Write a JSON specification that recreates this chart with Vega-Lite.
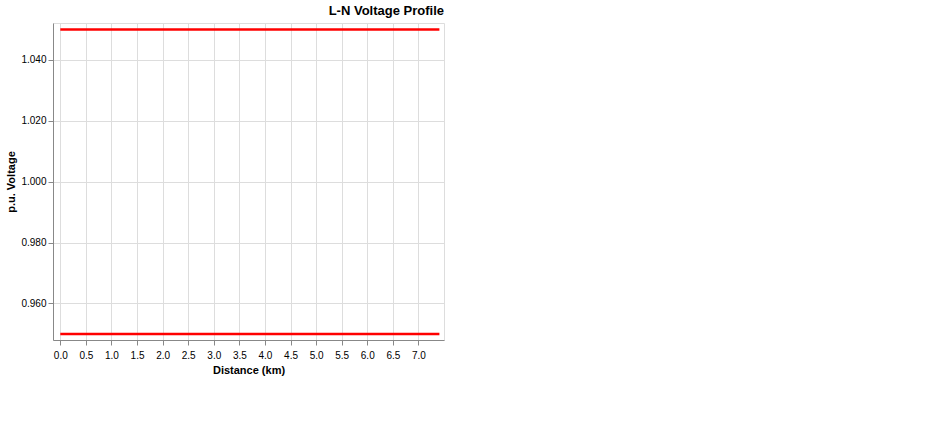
{
  "width": 391, "height": 317,
  "title": {"text": "L-N Voltage Profile", "anchor": "end", "offset": 5},
  "data": {"values": [{"x": 0, "x2": 7.41, "y": 1.05}, {"x": 0, "x2": 7.41, "y": 0.95}]},
  "mark": {"type": "rule", "color": "#ff0000", "strokeWidth": 2.5},
  "encoding": {
    "x": {"field": "x", "type": "quantitative", "scale": {"domain": [-0.143, 7.5], "nice": false, "zero": false},
      "axis": {"title": "Distance (km)", "values": [0, 0.5, 1, 1.5, 2, 2.5, 3, 3.5, 4, 4.5, 5, 5.5, 6, 6.5, 7], "labelPadding": 5, "titlePadding": 4}},
    "x2": {"field": "x2"},
    "y": {"field": "y", "type": "quantitative", "scale": {"domain": [0.948, 1.0521], "nice": false, "zero": false},
      "axis": {"title": "p.u. Voltage", "values": [0.96, 0.98, 1.0, 1.02, 1.04], "format": ".3f"}}
  }
}
